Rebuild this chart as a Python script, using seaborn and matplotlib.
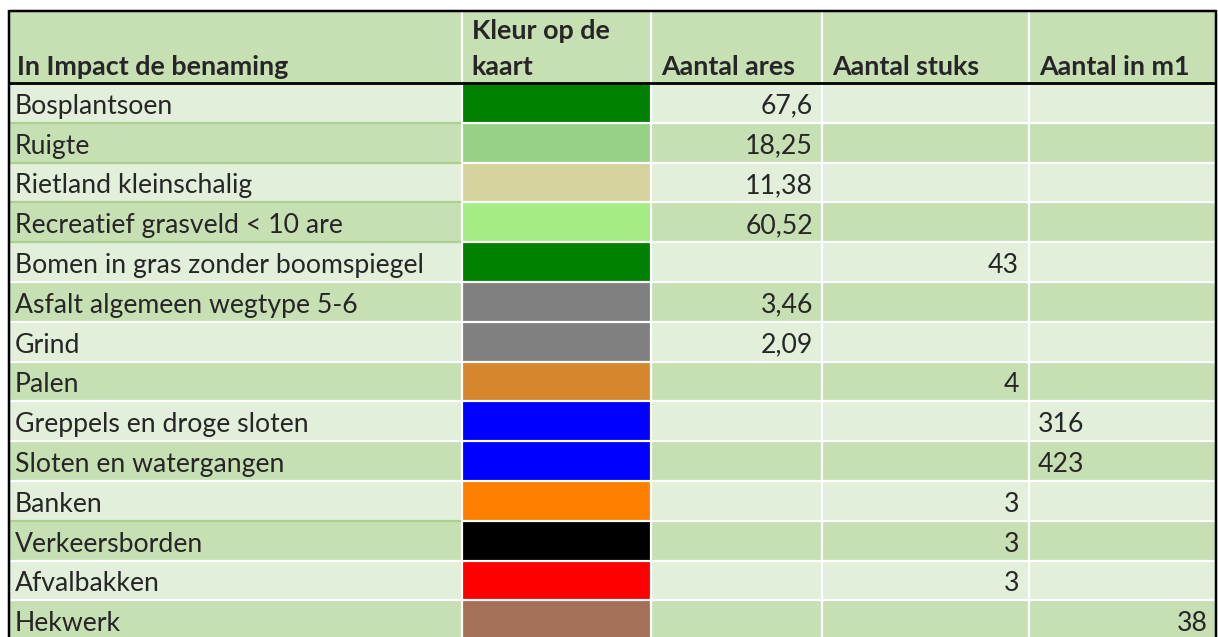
import matplotlib
matplotlib.use("Agg")
import matplotlib.pyplot as plt
import seaborn as sns
from matplotlib.patches import Rectangle

# ---------------- data ----------------
headers = ["In Impact de benaming", "Kleur op de\nkaart", "Aantal ares", "Aantal stuks", "Aantal in m1"]
names = [
    "Bosplantsoen", "Ruigte", "Rietland kleinschalig", "Recreatief grasveld < 10 are",
    "Bomen in gras zonder boomspiegel", "Asfalt algemeen wegtype 5-6", "Grind", "Palen",
    "Greppels en droge sloten", "Sloten en watergangen", "Banken", "Verkeersborden",
    "Afvalbakken", "Hekwerk",
]
map_colours = [
    "#008000", "#97D185", "#D6D29E", "#A4EC84", "#008000", "#808080", "#808080",
    "#D6862C", "#0000FF", "#0000FF", "#FF8000", "#000000", "#FF0000", "#A5705A",
]
ares = [67.6, 18.25, 11.38, 60.52, None, 3.46, 2.09, None, None, None, None, None, None, None]
stuks = [None, None, None, None, 43, None, None, 4, None, None, 3, 3, 3, None]
# values stored as text in the sheet (left aligned) vs numbers (right aligned)
m1 = [None, None, None, None, None, None, None, None, "316", "423", None, None, None, 38]

# ---------------- layout ----------------
W, H = 1218, 637
col_edges = [9, 461.5, 651, 822, 1029, 1216]
header_top, header_bot = 11, 83
row_h = 39.8
light, dark = "#E2EFDA", "#C6E0B4"
sep_green = "#A9D08E"
PX = 0.72  # points per pixel at dpi 100

sns.set_theme(style="white")
FONT = "Lato"
plt.rcParams["font.family"] = [FONT, "DejaVu Sans"]

fig = plt.figure(figsize=(W / 100, H / 100), dpi=100)
ax = fig.add_axes([0, 0, 1, 1])
ax.set_xlim(0, W)
ax.set_ylim(H, 0)
ax.axis("off")

n = len(names)

# fit font size to target pixel widths
renderer = fig.canvas.get_renderer()
def fit_size(txt, target, weight="normal"):
    t = ax.text(0, 0, txt, fontsize=20, fontweight=weight)
    w = t.get_window_extent(renderer).width
    t.remove()
    return 20 * target / w

fs = fit_size("Bomen in gras zonder boomspiegel", 410)
fs_b = fit_size("Aantal ares", 134, "bold")

# header background
ax.add_patch(Rectangle((col_edges[0], header_top), col_edges[-1] - col_edges[0],
                       header_bot - header_top, facecolor=dark, edgecolor="none", zorder=1))
# body rows
for i in range(n):
    y0 = header_bot + i * row_h
    ax.add_patch(Rectangle((col_edges[0], y0), col_edges[-1] - col_edges[0], row_h,
                           facecolor=light if i % 2 == 0 else dark, edgecolor="none", zorder=1))
    # swatch
    ax.add_patch(Rectangle((col_edges[1], y0), col_edges[2] - col_edges[1], row_h,
                           facecolor=map_colours[i], edgecolor="none", zorder=2))

# white grid lines
for x in col_edges[1:-1]:
    ax.vlines(x, header_top, H + 10, color="white", lw=2.2 * PX, zorder=3)
for i in range(1, n):
    y = header_bot + i * row_h
    ax.hlines(y, col_edges[1], col_edges[-1], color="white", lw=2.2 * PX, zorder=3)
    c = sep_green if i in (1, 2, 3, 4, 11) else "white"
    ax.hlines(y, col_edges[0], col_edges[1] - 1, color=c, lw=2.2 * PX, zorder=3)

# black borders
ax.vlines(col_edges[0], header_top - 1, H + 10, color="black", lw=2.5 * PX, zorder=4)
ax.vlines(col_edges[-1], header_top - 1, H + 10, color="black", lw=2.5 * PX, zorder=4)
ax.hlines(header_top, col_edges[0], col_edges[-1], color="black", lw=2.5 * PX, zorder=4)
ax.hlines(header_bot, col_edges[0], col_edges[-1], color="black", lw=2.8 * PX, zorder=4)

# header text
line2, line1 = header_bot - 8, header_bot - 8 - 36
for j, h in enumerate(headers):
    x = col_edges[j] + (8 if j == 0 else 10)
    lines = h.split("\n")
    if len(lines) == 2:
        ax.text(x, line1, lines[0], fontsize=fs_b, fontweight="bold", va="baseline", ha="left", zorder=5)
        ax.text(x, line2, lines[1], fontsize=fs_b, fontweight="bold", va="baseline", ha="left", zorder=5)
    else:
        ax.text(x, line2, lines[0], fontsize=fs_b, fontweight="bold", va="baseline", ha="left", zorder=5)

def fmt(v):
    return f"{v:g}".replace(".", ",")

for i in range(n):
    base = header_bot + (i + 1) * row_h - 9
    ax.text(col_edges[0] + 6, base, names[i], fontsize=fs, va="baseline", ha="left", zorder=5)
    if ares[i] is not None:
        ax.text(col_edges[3] - 9, base, fmt(ares[i]), fontsize=fs, va="baseline", ha="right", zorder=5)
    if stuks[i] is not None:
        ax.text(col_edges[4] - 10, base, fmt(stuks[i]), fontsize=fs, va="baseline", ha="right", zorder=5)
    if m1[i] is not None:
        if isinstance(m1[i], str):
            ax.text(col_edges[4] + 9, base, m1[i], fontsize=fs, va="baseline", ha="left", zorder=5)
        else:
            ax.text(col_edges[5] - 8, base, fmt(m1[i]), fontsize=fs, va="baseline", ha="right", zorder=5)

fig.savefig("out.png", dpi=100, facecolor="white")
